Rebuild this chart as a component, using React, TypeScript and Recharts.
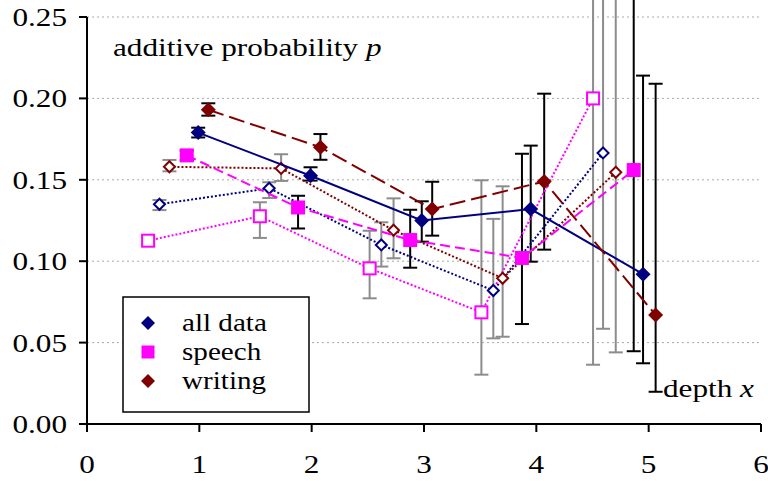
import React from 'react';
import { ScatterChart, Scatter, XAxis, YAxis, CartesianGrid, ErrorBar } from 'recharts';

// depth x (points are jittered around the integer depths), probability p, and interval bounds
const xAll = [0.99, 1.99, 2.98, 3.95, 4.95];
const pAll = [0.179, 0.1525, 0.125, 0.132, 0.092];
const loAll = [0.176, 0.1495, 0.112, 0.0997, 0.0373];
const hiAll = [0.182, 0.1577, 0.1368, 0.171, 0.214];

const xSpeech = [0.888, 1.879, 2.877, 3.872, 4.867];
const pSpeech = [0.165, 0.133, 0.113, 0.102, 0.156];
const loSpeech = [0.162, 0.1201, 0.096, 0.0614, 0.0447];
const hiSpeech = [0.168, 0.1402, 0.1316, 0.166, 0.3];

const xWriting = [1.08, 2.078, 3.073, 4.07, 5.062];
const pWriting = [0.193, 0.17, 0.132, 0.149, 0.067];
const loWriting = [0.1894, 0.1623, 0.1157, 0.1071, 0.0198];
const hiWriting = [0.197, 0.1781, 0.1488, 0.2029, 0.209];

const xAllH = [0.645, 1.622, 2.62, 3.617, 4.594];
const pAllH = [0.135, 0.1448, 0.11, 0.082, 0.1665];
const loAllH = [0.1314, 0.1388, 0.0967, 0.0526, 0.0585];
const hiAllH = [0.1376, 0.1485, 0.1239, 0.126, 0.3];

const xSpeechH = [0.544, 1.539, 2.516, 3.511, 4.505];
const pSpeechH = [0.1126, 0.1276, 0.0956, 0.0686, 0.2];
const loSpeechH = [0.11, 0.1143, 0.0772, 0.0303, 0.0364];
const hiSpeechH = [0.115, 0.1362, 0.1187, 0.1497, 0.4];

const xWritingH = [0.734, 1.728, 2.729, 3.7, 4.707];
const pWritingH = [0.158, 0.157, 0.119, 0.0895, 0.1546];
const loWritingH = [0.1552, 0.1493, 0.1018, 0.0536, 0.044];
const hiWritingH = [0.1622, 0.1657, 0.1386, 0.146, 0.3];

const xTicks = [0, 1, 2, 3, 4, 5, 6];
const yTicks = [0, 0.05, 0.1, 0.15, 0.2, 0.25];
const legendItems = ['all data', 'speech', 'writing'];

const NAVY = '#000080';
const MAGENTA = '#ff00ff';
const DARKRED = '#800000';
const GRAY = '#8c8c8c';
const FONT = '"Liberation Serif", "Times New Roman", serif';
const FS = 26;
const SX = 1.2; // text in the original is stretched horizontally

const rows = (xs: number[], ps: number[], lo: number[], hi: number[]) =>
  xs.map((x, i) => ({ x, p: ps[i], err: [ps[i] - lo[i], hi[i] - ps[i]] }));

const Marker = (props: any) => {
  const { cx, cy, kind, color, filled, size } = props;
  if (cx == null || cy == null) return null;
  const fill = filled ? color : '#fff';
  const sw = filled ? 0 : 2;
  if (kind === 'square') {
    const s = filled ? size : size - 2;
    return <rect x={cx - s / 2} y={cy - s / 2} width={s} height={s} fill={fill} stroke={color} strokeWidth={sw} />;
  }
  const h = filled ? size / 2 : size / 2 - 1;
  return (
    <polygon
      points={`${cx},${cy - h} ${cx + h},${cy} ${cx},${cy + h} ${cx - h},${cy}`}
      fill={fill}
      stroke={color}
      strokeWidth={sw}
    />
  );
};

const YTick = (props: any) => {
  const { x, y, payload } = props;
  return (
    <text transform={`translate(${x},${y}) scale(${SX},1)`} textAnchor="end" dominantBaseline="central"
      fontFamily={FONT} fontSize={FS} fill="#000">
      {payload.value.toFixed(2)}
    </text>
  );
};

const XTick = (props: any) => {
  const { x, y, payload } = props;
  return (
    <text transform={`translate(${x},${y + 28}) scale(${SX},1)`} textAnchor="middle" dominantBaseline="central"
      fontFamily={FONT} fontSize={FS} fill="#000">
      {payload.value}
    </text>
  );
};

const series = [
  { name: 'speechH', data: rows(xSpeechH, pSpeechH, loSpeechH, hiSpeechH), color: MAGENTA, kind: 'square', filled: false, size: 14, dash: '2 2', bar: GRAY },
  { name: 'allH', data: rows(xAllH, pAllH, loAllH, hiAllH), color: NAVY, kind: 'diamond', filled: false, size: 13, dash: '2 2', bar: GRAY },
  { name: 'writingH', data: rows(xWritingH, pWritingH, loWritingH, hiWritingH), color: DARKRED, kind: 'diamond', filled: false, size: 13, dash: '2 2', bar: GRAY },
  { name: 'speech', data: rows(xSpeech, pSpeech, loSpeech, hiSpeech), color: MAGENTA, kind: 'square', filled: true, size: 14, dash: '10 5', bar: '#000' },
  { name: 'all', data: rows(xAll, pAll, loAll, hiAll), color: NAVY, kind: 'diamond', filled: true, size: 15, dash: undefined, bar: '#000' },
  { name: 'writing', data: rows(xWriting, pWriting, loWriting, hiWriting), color: DARKRED, kind: 'diamond', filled: true, size: 15, dash: '16 6', bar: '#000' },
];

const legendColors = [NAVY, MAGENTA, DARKRED];
const legendKinds = ['diamond', 'square', 'diamond'];

export default function App() {
  return (
    <div style={{ position: 'absolute', left: 0, top: 0, width: 768, height: 481, background: '#fff' }}>
      <ScatterChart width={768} height={481} margin={{ top: 17, right: 7, left: 0, bottom: 0 }}>
        <CartesianGrid vertical={false} stroke="#aaaaaa" strokeDasharray="2 3" />
        <XAxis
          type="number"
          dataKey="x"
          domain={[0, 6]}
          ticks={xTicks}
          height={57}
          axisLine={{ stroke: '#000', strokeWidth: 2 }}
          tickLine={{ stroke: '#000', strokeWidth: 2 }}
          tickSize={8}
          tickMargin={4}
          tick={<XTick />}
        />
        <YAxis
          type="number"
          dataKey="p"
          domain={[0, 0.25]}
          ticks={yTicks}
          allowDataOverflow
          width={87}
          axisLine={{ stroke: '#000', strokeWidth: 2 }}
          tickLine={{ stroke: '#000', strokeWidth: 2 }}
          tickSize={8}
          tickMargin={12}
          tick={<YTick />}
        />
        {series.map((s) => (
          <Scatter
            key={s.name}
            data={s.data}
            fill={s.color}
            isAnimationActive={false}
            line={{ stroke: s.color, strokeWidth: 2, strokeDasharray: s.dash }}
            lineType="joint"
            shape={(props: any) => (
              <Marker {...props} kind={s.kind} color={s.color} filled={s.filled} size={s.size} />
            )}
          >
            <ErrorBar dataKey="err" direction="y" width={7} stroke={s.bar} strokeWidth={2} />
          </Scatter>
        ))}
      </ScatterChart>
      <svg width={768} height={481} style={{ position: 'absolute', left: 0, top: 0, pointerEvents: 'none' }}>
        <text transform={`translate(113,56) scale(${SX},1)`} fontFamily={FONT} fontSize={FS} fill="#000">
          additive probability <tspan fontStyle="italic">p</tspan>
        </text>
        <text transform={`translate(663,397) scale(${SX},1)`} fontFamily={FONT} fontSize={FS} fill="#000">
          depth <tspan fontStyle="italic">x</tspan>
        </text>
        <rect x={123} y={297} width={186} height={115} fill="#fff" stroke="#000" strokeWidth={1.5} />
        {legendItems.map((label, i) => (
          <g key={label}>
            <Marker cx={148} cy={323 + i * 29} kind={legendKinds[i]} color={legendColors[i]} filled size={legendKinds[i] === 'square' ? 13 : 14} />
            <text transform={`translate(182,${322 + i * 29}) scale(1.12,1)`} dominantBaseline="central"
              fontFamily={FONT} fontSize={FS} fill="#000">
              {label}
            </text>
          </g>
        ))}
      </svg>
    </div>
  );
}
